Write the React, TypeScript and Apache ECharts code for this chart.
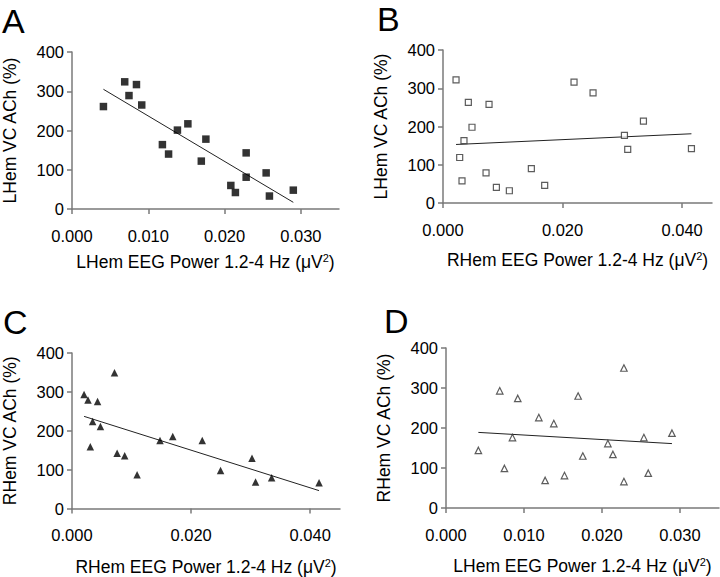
import React, { useEffect, useRef } from "react";
import * as echarts from "echarts";

// Panel A: LHem EEG power vs LHem VC ACh
const A_X = [0.00412, 0.00691, 0.00747, 0.00845, 0.00914, 0.01185, 0.01266, 0.01382, 0.01519, 0.01695, 0.01755, 0.02082, 0.02142, 0.02283, 0.02283, 0.02545, 0.02588, 0.02901];
const A_Y = [261, 324, 289, 317, 265, 164, 140, 201, 217, 122, 178, 60, 42, 143, 81, 92, 33, 48];
const A_FIT_X = [0.00412, 0.02901];
const A_FIT_Y = [305, 17];

// Panel B: RHem EEG power vs LHem VC ACh
const B_X = [0.00218, 0.00279, 0.00318, 0.00351, 0.00424, 0.00485, 0.0072, 0.0077, 0.00893, 0.0111, 0.01478, 0.01701, 0.02192, 0.0251, 0.03035, 0.0309, 0.03353, 0.04156];
const B_Y = [322, 119, 58, 163, 263, 198, 79, 258, 41, 32, 90, 46, 316, 288, 177, 140, 214, 142];
const B_FIT_X = [0.00218, 0.04156];
const B_FIT_Y = [153, 181];

// Panel C: RHem EEG power vs RHem VC ACh
const C_X = [0.00203, 0.00269, 0.00308, 0.00346, 0.00429, 0.00478, 0.00714, 0.00758, 0.00885, 0.01093, 0.01478, 0.01692, 0.02187, 0.02495, 0.03022, 0.03082, 0.03352, 0.04148];
const C_Y = [293, 279, 159, 224, 275, 211, 349, 142, 136, 87, 175, 185, 175, 98, 129, 68, 79, 66];
const C_FIT_X = [0.00203, 0.04148];
const C_FIT_Y = [237, 46];

// Panel D: LHem EEG power vs RHem VC ACh
const D_X = [0.00415, 0.00689, 0.00749, 0.00852, 0.0092, 0.0119, 0.01271, 0.01382, 0.01519, 0.01694, 0.01754, 0.02075, 0.0214, 0.02281, 0.02281, 0.02537, 0.02593, 0.02897];
const D_Y = [144, 293, 99, 176, 274, 226, 69, 211, 81, 280, 130, 161, 134, 350, 66, 176, 87, 187];
const D_FIT_X = [0.00415, 0.02897];
const D_FIT_Y = [189, 161];

const Y_TICKS = [0, 100, 200, 300, 400];
const X_TICKS_NARROW = [0, 0.01, 0.02, 0.03];
const X_TICKS_WIDE = [0, 0.02, 0.04];

const X_NAME_L = "LHem EEG Power 1.2-4 Hz (μV{sup|2})";
const X_NAME_R = "RHem EEG Power 1.2-4 Hz (μV{sup|2})";
const Y_NAME_L = "LHem VC ACh (%)";
const Y_NAME_R = "RHem VC ACh (%)";
const LETTERS = ["A", "B", "C", "D"];

const FONT = "Liberation Sans, Arial, sans-serif";
const AXIS_COLOR = "#7a7a7a";

const zip = (xs: number[], ys: number[]) => xs.map((x, i) => [x, ys[i]]);

export default function App() {
  const ref = useRef<HTMLDivElement>(null);
  useEffect(() => {
    if (!ref.current) return;
    const chart = echarts.init(ref.current, null, { renderer: "svg" });

    const grids = [
      { left: 67, top: 52, width: 272, height: 157 },
      { left: 443, top: 50, width: 269, height: 153 },
      { left: 68, top: 353, width: 272, height: 156 },
      { left: 446, top: 348, width: 273, height: 160 },
    ];
    const xMax = [0.035, 0.045, 0.045, 0.035];
    const xTicks = [X_TICKS_NARROW, X_TICKS_WIDE, X_TICKS_WIDE, X_TICKS_NARROW];
    const xNames = [X_NAME_L, X_NAME_R, X_NAME_R, X_NAME_L];
    const yNames = [Y_NAME_L, Y_NAME_L, Y_NAME_R, Y_NAME_R];
    const xNameGap = [43, 47, 49, 48];

    const axisLine = { lineStyle: { color: AXIS_COLOR, width: 1.5 } };
    const axisTick = { length: 5, lineStyle: { color: AXIS_COLOR, width: 1.5 } };

    const xAxis = grids.map((_, i) => ({
      type: "value",
      gridIndex: i,
      min: 0,
      max: xMax[i],
      interval: xTicks[i][1],
      splitLine: { show: false },
      axisLine,
      axisTick: { ...axisTick, customValues: xTicks[i] },
      axisLabel: {
        customValues: xTicks[i],
        formatter: (v: number) => v.toFixed(3),
        fontSize: 16.5,
        color: "#000",
        fontFamily: FONT,
        margin: 18,
      },
      name: xNames[i],
      nameLocation: "middle",
      nameGap: xNameGap[i],
      nameTextStyle: {
        fontSize: 17.5,
        color: "#000",
        fontFamily: FONT,
        rich: {
          sup: { fontSize: 11, verticalAlign: "top", fontFamily: FONT, color: "#000", padding: [0, 0, 8, 0] },
        },
      },
    }));

    const yAxis = grids.map((_, i) => ({
      type: "value",
      gridIndex: i,
      min: Y_TICKS[0],
      max: Y_TICKS[Y_TICKS.length - 1],
      interval: Y_TICKS[1] - Y_TICKS[0],
      splitLine: { show: false },
      axisLine: { show: true, ...axisLine },
      axisTick: { show: true, ...axisTick },
      axisLabel: { fontSize: 16.5, color: "#000", fontFamily: FONT, margin: 8 },
      name: yNames[i],
      nameLocation: "middle",
      nameGap: 53,
      nameTextStyle: { fontSize: 17.5, color: "#000", fontFamily: FONT },
    }));

    const pts = [zip(A_X, A_Y), zip(B_X, B_Y), zip(C_X, C_Y), zip(D_X, D_Y)];
    const fits = [zip(A_FIT_X, A_FIT_Y), zip(B_FIT_X, B_FIT_Y), zip(C_FIT_X, C_FIT_Y), zip(D_FIT_X, D_FIT_Y)];
    const symbols = ["rect", "rect", "triangle", "triangle"];
    const sizes = [7.5, 6, 7.5, 6.5];
    const filled = [true, false, true, false];

    const series: any[] = [];
    for (let i = 0; i < 4; i++) {
      series.push({
        type: "line",
        xAxisIndex: i,
        yAxisIndex: i,
        data: fits[i],
        symbol: "none",
        lineStyle: { color: "#222", width: 1 },
        z: 1,
      });
      series.push({
        type: "scatter",
        xAxisIndex: i,
        yAxisIndex: i,
        data: pts[i],
        symbol: symbols[i],
        symbolSize: sizes[i],
        itemStyle: filled[i]
          ? { color: "#000" }
          : { color: "#fff", borderColor: "#333", borderWidth: 1.2 },
        z: 2,
      });
    }

    const letterPos = [
      [2, 4],
      [377, 2],
      [3, 305],
      [384, 304],
    ];

    chart.setOption({
      animation: false,
      backgroundColor: "#fff",
      grid: grids,
      xAxis,
      yAxis,
      series,
      graphic: LETTERS.map((t, i) => ({
        type: "text",
        left: letterPos[i][0],
        top: letterPos[i][1],
        style: { text: t, fontSize: 34, lineHeight: 26, fontFamily: FONT, fill: "#000" },
      })),
    });
    return () => chart.dispose();
  }, []);
  return (
    <div
      ref={ref}
      style={{ position: "absolute", left: 0, top: 0, width: 720, height: 577 }}
    />
  );
}
